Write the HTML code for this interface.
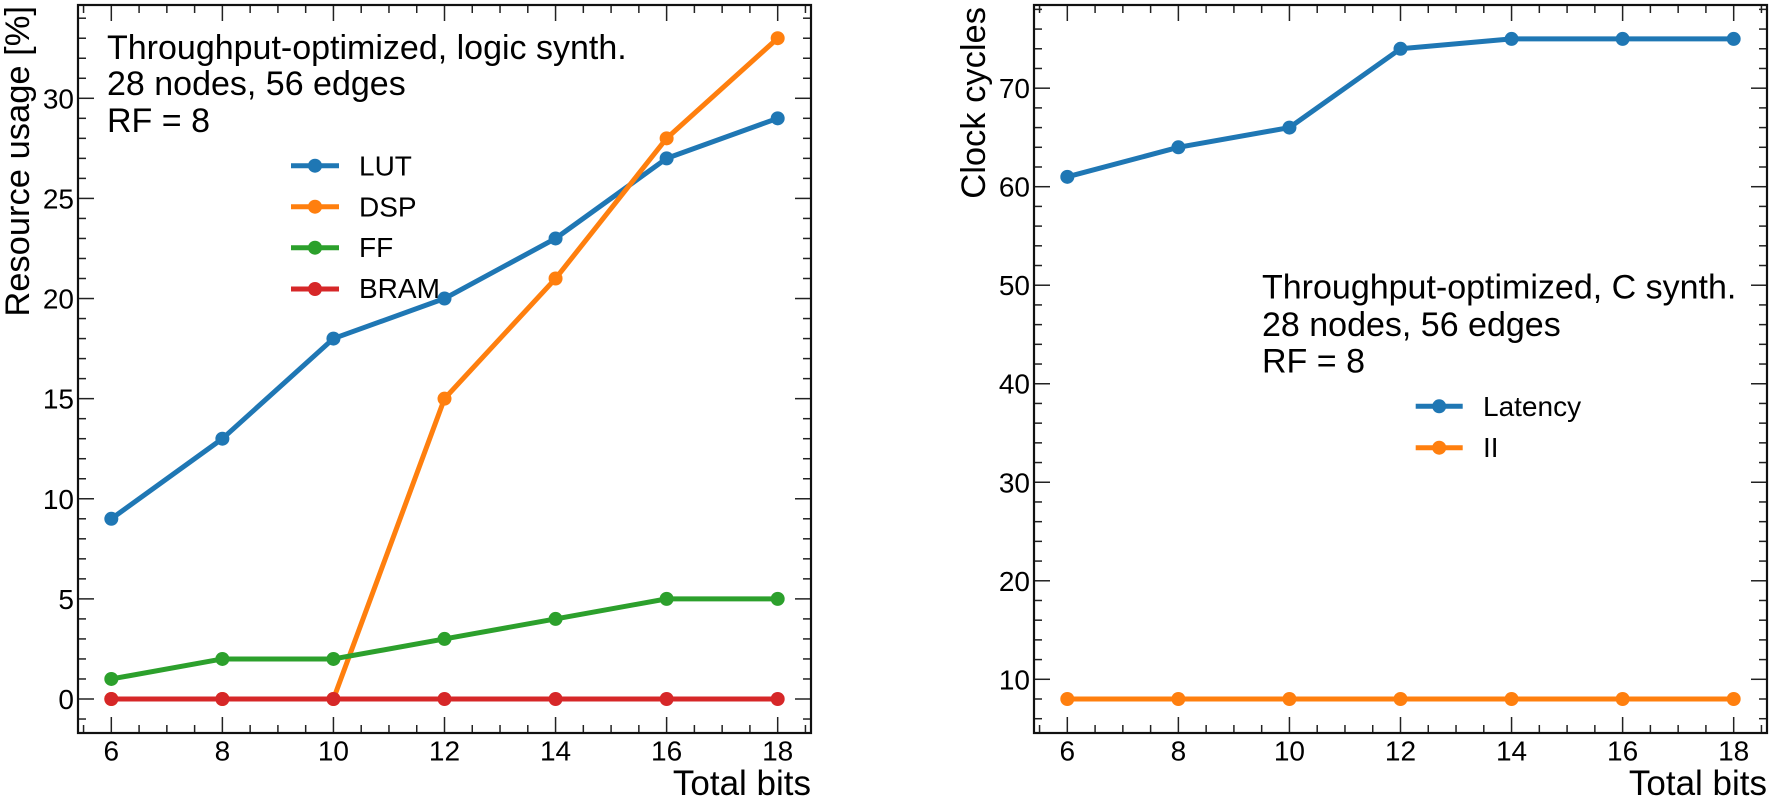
<!DOCTYPE html>
<html>
<head>
<meta charset="utf-8">
<title>Resource usage and clock cycles vs total bits</title>
<style>
html,body{margin:0;padding:0;background:#fff;width:1772px;height:801px;overflow:hidden}
svg{display:block;filter:blur(0.35px)}
text{font-family:"Liberation Sans",sans-serif;fill:#000}
</style>
</head>
<body>
<svg id="chart" xmlns="http://www.w3.org/2000/svg" width="1772" height="801" viewBox="0 0 1772 801"></svg>
<script>
var totalBits = [6, 8, 10, 12, 14, 16, 18];
var lutValues = [9, 13, 18, 20, 23, 27, 29];
var dspValues = [0, 0, 0, 15, 21, 28, 33];
var ffValues = [1, 2, 2, 3, 4, 5, 5];
var bramValues = [0, 0, 0, 0, 0, 0, 0];
var latencyValues = [61, 64, 66, 74, 75, 75, 75];
var iiValues = [8, 8, 8, 8, 8, 8, 8];
var xTickLabels = [6, 8, 10, 12, 14, 16, 18];
var xMinorTicks = [5.5, 6.5, 7, 7.5, 8.5, 9, 9.5, 10.5, 11, 11.5, 12.5, 13, 13.5, 14.5, 15, 15.5, 16.5, 17, 17.5, 18.5];
var leftYTickLabels = [0, 5, 10, 15, 20, 25, 30];
var rightYTickLabels = [10, 20, 30, 40, 50, 60, 70];
var leftYMinorTicks = [-1, 1, 2, 3, 4, 6, 7, 8, 9, 11, 12, 13, 14, 16, 17, 18, 19, 21, 22, 23, 24, 26, 27, 28, 29, 31, 32, 33, 34];
var rightYMinorTicks = [6, 8, 12, 14, 16, 18, 22, 24, 26, 28, 32, 34, 36, 38, 42, 44, 46, 48, 52, 54, 56, 58, 62, 64, 66, 68, 72, 74, 76, 78];

var svg = document.getElementById('chart');
var NS = 'http://www.w3.org/2000/svg';

function make(tag, attrs, parent) {
  var el = document.createElementNS(NS, tag);
  for (var k in attrs) el.setAttribute(k, attrs[k]);
  (parent || svg).appendChild(el);
  return el;
}
function linear(d0, d1, r0, r1) {
  return function (v) { return r0 + (v - d0) * (r1 - r0) / (d1 - d0); };
}
function drawText(str, x, y, size, anchor, name, transform) {
  var attrs = { x: x, y: y, 'font-size': size, 'text-anchor': anchor || 'start' };
  if (transform) attrs.transform = transform;
  var t = make('text', attrs);
  t.textContent = str;
  
  
  return t;
}
function tick(x1, y1, x2, y2, name) {
  var l = make('line', { x1: x1, y1: y1, x2: x2, y2: y2, stroke: '#222', 'stroke-width': 1.5 });
  
  
}
function drawAxes(box, xScale, yScale, yMajor, yMinor, yLabel, yLabelX, yLabelY, prefix) {
  xMinorTicks.forEach(function (v) {
    var x = xScale(v);
    tick(x, box.bottom, x, box.bottom - 8, prefix + '-x-minor-tick');
    tick(x, box.top, x, box.top + 8, prefix + '-x-minor-tick-top');
  });
  xTickLabels.forEach(function (v) {
    var x = xScale(v);
    tick(x, box.bottom, x, box.bottom - 16, prefix + '-x-major-tick');
    tick(x, box.top, x, box.top + 16, prefix + '-x-major-tick-top');
    drawText(String(v), x, 760.5, 28, 'middle', prefix + '-x-tick-label');
  });
  yMinor.forEach(function (v) {
    var y = yScale(v);
    tick(box.left, y, box.left + 8, y, prefix + '-y-minor-tick');
    tick(box.right, y, box.right - 8, y, prefix + '-y-minor-tick-right');
  });
  yMajor.forEach(function (v) {
    var y = yScale(v);
    tick(box.left, y, box.left + 16, y, prefix + '-y-major-tick');
    tick(box.right, y, box.right - 16, y, prefix + '-y-major-tick-right');
    drawText(String(v), box.left - 4, y + 10, 28, 'end', prefix + '-y-tick-label');
  });
  var frame = make('rect', { x: box.left, y: box.top, width: box.right - box.left, height: box.bottom - box.top, fill: 'none', stroke: '#111', 'stroke-width': 2.2 });
  
  
  drawText('Total bits', box.right, 795, 35, 'end', prefix + '-x-axis-title');
  drawText(yLabel, yLabelX, yLabelY, 34.5, 'end', prefix + '-y-axis-title', 'rotate(-90 ' + yLabelX + ' ' + yLabelY + ')');
}
function drawSeries(xs, ys, xScale, yScale, color, name) {
  var pts = xs.map(function (v, i) { return xScale(v) + ',' + yScale(ys[i]); }).join(' ');
  var line = make('polyline', { points: pts, fill: 'none', stroke: color, 'stroke-width': 5, 'stroke-linejoin': 'round' });
  
  
  xs.forEach(function (v, i) {
    var c = make('circle', { cx: xScale(v), cy: yScale(ys[i]), r: 7, fill: color });
    
    
  });
}
function legendEntry(x1, x2, y, textX, baseline, color, label, name) {
  var l = make('line', { x1: x1, y1: y, x2: x2, y2: y, stroke: color, 'stroke-width': 5 });
  
  
  var c = make('circle', { cx: (x1 + x2) / 2, cy: y, r: 7, fill: color });
  
  
  drawText(label, textX, baseline, 28, 'start', name + '-legend-label');
}

/* left panel */
var leftBox = { left: 78, right: 811, top: 5, bottom: 733 };
var xLeft = linear(5.4, 18.6, leftBox.left, leftBox.right);
var yLeft = linear(0, 30, 699, 98.3);
drawAxes(leftBox, xLeft, yLeft, leftYTickLabels, leftYMinorTicks, 'Resource usage [%]', 29, 6, 'left');
drawSeries(totalBits, lutValues, xLeft, yLeft, '#1f77b4', 'lut');
drawSeries(totalBits, dspValues, xLeft, yLeft, '#ff7f0e', 'dsp');
drawSeries(totalBits, ffValues, xLeft, yLeft, '#2ca02c', 'ff');
drawSeries(totalBits, bramValues, xLeft, yLeft, '#d62728', 'bram');
drawText('Throughput-optimized, logic synth.', 107, 59, 34, 'start', 'left-annotation-title');
drawText('28 nodes, 56 edges', 107, 95, 34, 'start', 'left-annotation-graph-size');
drawText('RF = 8', 107, 132, 34, 'start', 'left-annotation-reuse-factor');
legendEntry(291, 339, 165.7, 359, 175.7, '#1f77b4', 'LUT', 'lut');
legendEntry(291, 339, 206.7, 359, 216.5, '#ff7f0e', 'DSP', 'dsp');
legendEntry(291, 339, 247.7, 359, 257, '#2ca02c', 'FF', 'ff');
legendEntry(291, 339, 289, 359, 298, '#d62728', 'BRAM', 'bram');

/* right panel */
var rightBox = { left: 1034, right: 1767, top: 5, bottom: 733 };
var xRight = linear(5.4, 18.6, rightBox.left, rightBox.right);
var yRight = linear(8, 60, 699, 186.7);
drawAxes(rightBox, xRight, yRight, rightYTickLabels, rightYMinorTicks, 'Clock cycles', 985, 7, 'right');
drawSeries(totalBits, latencyValues, xRight, yRight, '#1f77b4', 'latency');
drawSeries(totalBits, iiValues, xRight, yRight, '#ff7f0e', 'ii');
drawText('Throughput-optimized, C synth.', 1262, 298.5, 34, 'start', 'right-annotation-title');
drawText('28 nodes, 56 edges', 1262, 336, 34, 'start', 'right-annotation-graph-size');
drawText('RF = 8', 1262, 372.5, 34, 'start', 'right-annotation-reuse-factor');
legendEntry(1415.7, 1462.7, 406.3, 1483, 416, '#1f77b4', 'Latency', 'latency');
legendEntry(1415.7, 1462.7, 447.7, 1483, 457, '#ff7f0e', 'II', 'ii');
</script>
</body>
</html>
